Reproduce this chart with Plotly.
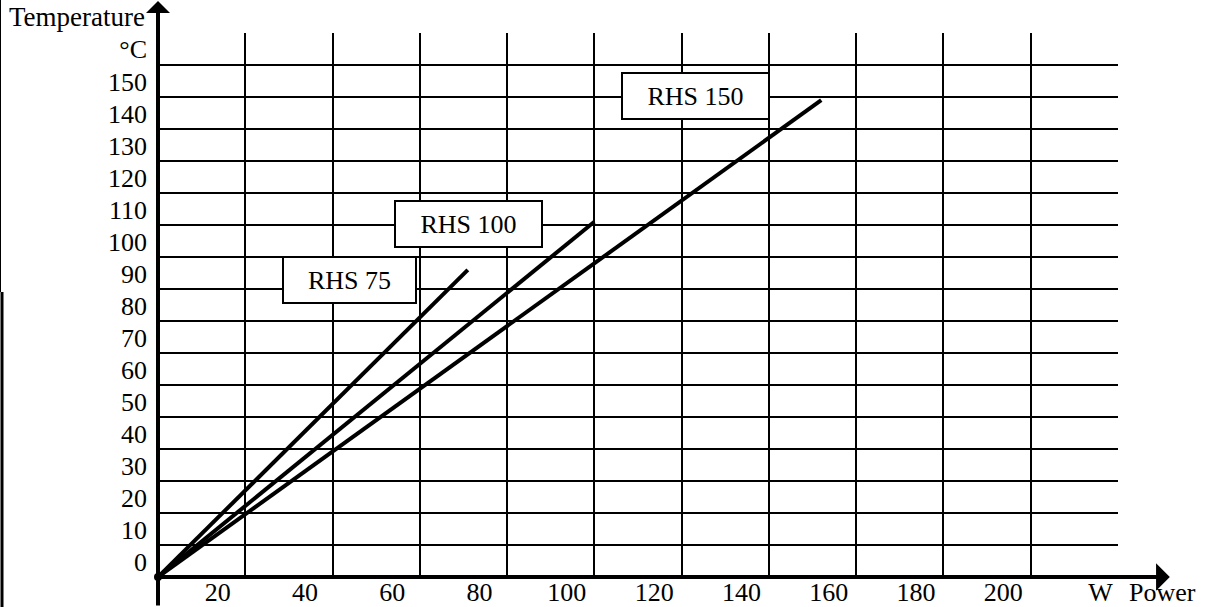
import plotly.graph_objects as go

# ---- data ----
series_names = ["RHS 75", "RHS 100", "RHS 150"]
power_rhs75 = [0, 71]
temp_rhs75 = [0, 96]
power_rhs100 = [0, 100]
temp_rhs100 = [0, 111]
power_rhs150 = [0, 152]
temp_rhs150 = [0, 149]

x_tick_values = [20, 40, 60, 80, 100, 120, 140, 160, 180, 200]
x_tick_labels = ["20", "40", "60", "80", "100", "120", "140", "160", "180", "200"]
x_unit_label = "W"
y_tick_values = [0, 10, 20, 30, 40, 50, 60, 70, 80, 90, 100, 110, 120, 130, 140, 150]
y_tick_labels = [str(v) for v in y_tick_values]
y_unit_label = "°C"
x_title = "Power"
y_title = "Temperature"

FONT = "Times New Roman, Liberation Serif, serif"
FS = 26
X_MAX, Y_MAX = 220, 170

fig = go.Figure()
for name, xs, ys in [
    (series_names[0], power_rhs75, temp_rhs75),
    (series_names[1], power_rhs100, temp_rhs100),
    (series_names[2], power_rhs150, temp_rhs150),
]:
    fig.add_trace(go.Scatter(x=xs, y=ys, mode="lines", name=name,
                             line=dict(color="black", width=4),
                             showlegend=False, hoverinfo="skip"))
# origin dot
fig.add_trace(go.Scatter(x=[power_rhs75[0]], y=[temp_rhs75[0]], mode="markers",
                         marker=dict(color="black", size=8), showlegend=False,
                         hoverinfo="skip", cliponaxis=False))
# dummy trace for the label axes
fig.add_trace(go.Scatter(x=[None], y=[None], xaxis="x2", yaxis="y2",
                         showlegend=False, hoverinfo="skip"))

x_label_pos = [v - 6.3 for v in x_tick_values] + [216]
y_label_pos = [v + 4.8 for v in y_tick_values] + [165]

fig.update_layout(
    width=1210, height=607,
    margin=dict(l=158, r=92, t=33, b=30, autoexpand=False),
    paper_bgcolor="white", plot_bgcolor="white",
    font=dict(family=FONT, size=FS, color="black"),
    xaxis=dict(range=[0, X_MAX], tickvals=list(range(0, X_MAX + 1, 20)),
               showticklabels=False, showgrid=True, gridcolor="black",
               gridwidth=2, zeroline=False, showline=False, ticks="",
               automargin=False),
    yaxis=dict(range=[0, Y_MAX], tickvals=list(range(0, Y_MAX + 1, 10)),
               showticklabels=False, showgrid=True, gridcolor="black",
               gridwidth=2, zeroline=False, showline=False, ticks="",
               automargin=False),
    xaxis2=dict(overlaying="x", anchor="y2", side="bottom", range=[0, X_MAX],
                tickvals=x_label_pos, ticktext=x_tick_labels + [x_unit_label],
                showgrid=False, zeroline=False, showline=False, ticks="",
                ticklabelstandoff=-3, automargin=False,
                tickfont=dict(family=FONT, size=FS, color="black")),
    yaxis2=dict(overlaying="y", anchor="x2", side="left", range=[0, Y_MAX],
                tickvals=y_label_pos, ticktext=y_tick_labels + [y_unit_label],
                showgrid=False, zeroline=False, showline=False, ticks="",
                ticklabelstandoff=10, automargin=False,
                tickfont=dict(family=FONT, size=FS, color="black")),
)

annotations = []
# axis arrows
annotations.append(dict(xref="paper", yref="paper", x=1.054, y=0, ax=-1012, ay=0,
                        axref="pixel", ayref="pixel", text="", showarrow=True,
                        arrowhead=1, arrowsize=1.15, arrowwidth=4, arrowcolor="black"))
annotations.append(dict(xref="paper", yref="paper", x=0, y=(577 + 1) / 544, ax=0, ay=608,
                        text="", showarrow=True,
                        arrowhead=1, arrowsize=1.0, arrowwidth=4, arrowcolor="black"))
# axis titles
annotations.append(dict(xref="paper", yref="paper", x=1.046, y=-0.028,
                        xanchor="center", yanchor="middle", text=x_title,
                        showarrow=False, font=dict(family=FONT, size=FS)))
annotations.append(dict(xref="paper", yref="paper", x=-11 / 960, y=(577 - 17) / 544,
                        xanchor="right", yanchor="middle", text=y_title,
                        showarrow=False, font=dict(family=FONT, size=FS + 1)))
# series label boxes
box_specs = [(series_names[0], 43.9, 92.8, 131),
             (series_names[1], 71.2, 110.3, 145),
             (series_names[2], 123.2, 150.3, 145)]
for text, bx, by, w in box_specs:
    annotations.append(dict(x=bx, y=by, xref="x", yref="y", text=text,
                            showarrow=False, bgcolor="white", bordercolor="black",
                            borderwidth=2, borderpad=0, width=w, height=44,
                            align="center", valign="middle",
                            font=dict(family=FONT, size=FS, color="black")))
fig.update_layout(annotations=annotations)

# scan-edge lines on the left border
fig.add_shape(type="line", xref="paper", yref="paper", x0=-157.5 / 960, x1=-157.5 / 960,
              y0=577 / 544, y1=(577 - 292) / 544, line=dict(color="black", width=1))
fig.add_shape(type="line", xref="paper", yref="paper", x0=-156 / 960, x1=-156 / 960,
              y0=(577 - 292) / 544, y1=(577 - 607) / 544, line=dict(color="black", width=3))

fig.write_html("out.html",
               config={"displayModeBar": False},
               post_script="document.body.style.margin='0';document.body.style.overflow='hidden';")
